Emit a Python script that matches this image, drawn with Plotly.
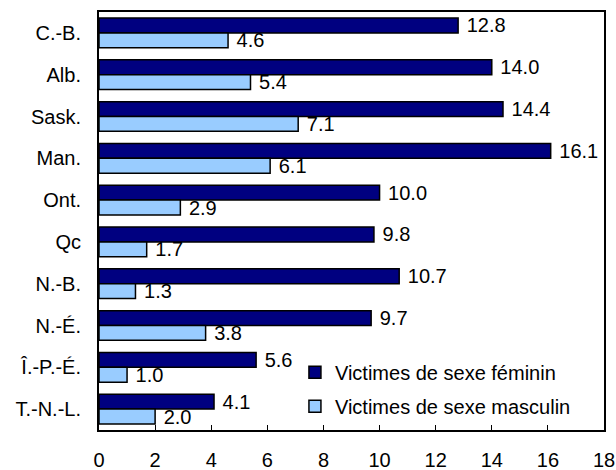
import plotly.graph_objects as go

provinces = ['C.-B.', 'Alb.', 'Sask.', 'Man.', 'Ont.', 'Qc', 'N.-B.', 'N.-É.', 'Î.-P.-É.', 'T.-N.-L.']
female = [12.8, 14.0, 14.4, 16.1, 10.0, 9.8, 10.7, 9.7, 5.6, 4.1]
male = [4.6, 5.4, 7.1, 6.1, 2.9, 1.7, 1.3, 3.8, 1.0, 2.0]
x_ticks = [0, 2, 4, 6, 8, 10, 12, 14, 16, 18]

font_name = 'Liberation Sans, Arial, sans-serif'

fig = go.Figure()
fig.add_trace(go.Bar(y=provinces, x=female, orientation='h', name='Victimes de sexe féminin',
                     marker=dict(color='#000080', line=dict(color='black', width=1.5)),
                     texttemplate='\u00a0%{x:.1f}', textposition='outside', cliponaxis=False,
                     constraintext='none', legendgroup='f'))
fig.add_trace(go.Bar(y=provinces, x=male, orientation='h', name='Victimes de sexe masculin',
                     marker=dict(color='#99CCFF', line=dict(color='black', width=1.5)),
                     texttemplate='\u00a0%{x:.1f}', textposition='outside', cliponaxis=False,
                     constraintext='none', legendgroup='m'))

fig.update_layout(
    width=616, height=470,
    margin=dict(l=99, r=12, t=12, b=40, autoexpand=False),
    barmode='group', bargap=0.29, bargroupgap=0,
    plot_bgcolor='white', paper_bgcolor='white',
    font=dict(family=font_name, size=20, color='black'),
    legend=dict(x=0.388, y=0.185, xanchor='left', yanchor='top', traceorder='grouped',
                tracegroupgap=5, bgcolor='rgba(0,0,0,0)', font=dict(size=20)),
    xaxis=dict(range=[0, 18], tickvals=x_ticks, ticks='inside', ticklen=5, tickcolor='black',
               showgrid=False, zeroline=False, showline=True, linecolor='black', linewidth=2,
               mirror=True, automargin=False, ticklabelstandoff=11),
    yaxis=dict(autorange='reversed', showgrid=False, showline=True, linecolor='black',
               linewidth=2, mirror=True, ticks='', ticklabelstandoff=12, automargin=False),
)

# drop the default 8px page margin so the figure fills the window exactly
fig.write_html('out.html', config={'displayModeBar': False},
               post_script="document.body.style.margin='0';document.body.style.overflow='hidden';")
